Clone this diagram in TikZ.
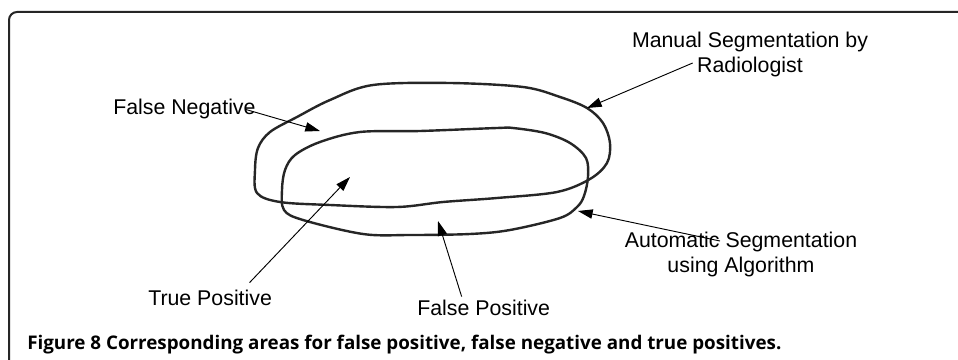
\documentclass[tikz,border=0pt]{standalone}
\usepackage{fontspec}
\setmainfont{Liberation Sans}
\newfontfamily\capfont{Open Sans}
\usepackage{tikz}
\usetikzlibrary{arrows.meta}

\tikzset{
  lbl/.style={inner sep=0pt, font=\fontsize{16}{18.75}\selectfont, align=center},
  segline/.style={line width=1.8pt, black!85, line join=round},
  pointer/.style={line width=0.7pt, -{Triangle[length=11pt,width=7pt]}}
}

\begin{document}
\begin{tikzpicture}[x=0.75pt, y=-0.75pt]
      \clip (0,0) rectangle (958,360);
      \fill[white] (0,0) rectangle (958,360);
      % panel frame
      \draw[line width=1.5pt, black!85, rounded corners=6pt] (975,12) -- (9,12) -- (9,380);

      % the two outlines
      \draw[segline] plot[smooth cycle, tension=0.55] coordinates {
        (373,85) (450,83) (523,87) (560,97) (587,108) (603,123) (610,143)
        (607,163) (590,179) (557,192) (497,198) (443,202) (397,207)
        (330,205) (280,202) (257,193) (255,170) (258,148) (270,132)
        (297,117) (330,100)};
      \draw[segline] plot[smooth cycle, tension=0.55] coordinates {
        (360,132) (420,131) (497,128) (513,128) (545,133) (570,143)
        (586,158) (588,177) (584,196) (577,207) (560,218) (510,230)
        (470,234) (410,235) (363,234) (303,220) (284,210) (282,190)
        (285,170) (295,155) (320,142)};

      % labels
      \node (man) at (750,54) [lbl] {Manual Segmentation by\\Radiologist};
      \node (fn) at (113,115) [lbl, anchor=base west] {False Negative};
      \node (tp) at (148,305) [lbl, anchor=base west] {True Positive};
      \node (fp) at (417,315) [lbl, anchor=base west] {False Positive};
      \node (auto) at (741,254) [lbl] {Automatic Segmentation\\using Algorithm};
      \node (cap) at (27,349) [anchor=base west, inner sep=0pt,
        font=\capfont\bfseries\fontsize{14.1}{16}\selectfont]
        {Figure 8 Corresponding areas for false positive, false negative and true positives.};

      % arrow tips
      \coordinate (mantip) at (587,108);
      \coordinate (fntip) at (320,131);
      \coordinate (tptip) at (350,177);
      \coordinate (fptip) at (438,221);
      \coordinate (autotip) at (578,211);

      \draw[pointer] ([xshift=-43pt,yshift=-6.75pt]man.center) to (mantip);
      \draw[pointer] ([xshift=-7.5pt]fn.east) to (fntip);
      \draw[pointer] ([xshift=-17pt,yshift=5pt]tp.north east) to (tptip);
      \draw[pointer] ([xshift=-16.5pt,yshift=2pt]fp.north) to (fptip);
      \draw[pointer] ([xshift=-15.75pt,yshift=9.75pt]auto.center) to (autotip);
    \end{tikzpicture}
\end{document}
